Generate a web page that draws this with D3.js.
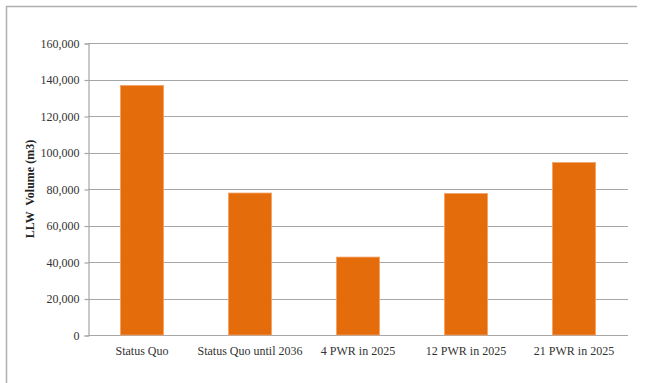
<!DOCTYPE html>
<html>
<head>
<meta charset="utf-8">
<script src="https://cdn.jsdelivr.net/npm/d3@7"></script>
<style>
  html, body { margin: 0; padding: 0; background: #fff; }
  svg { display: block; }
  text { font-family: "Liberation Serif", "Times New Roman", serif; }
</style>
</head>
<body>
<svg id="chart" width="646" height="383"></svg>
<script>
// Low-level waste volume by scenario
const categories = ["Status Quo", "Status Quo until 2036", "4 PWR in 2025", "12 PWR in 2025", "21 PWR in 2025"];
const volumes = [136700, 77800, 42700, 77500, 94500];
const yTicks = [0, 20000, 40000, 60000, 80000, 100000, 120000, 140000, 160000];

const svg = d3.select("#chart");
const W = 646, H = 383;
const margin = { left: 88, right: 18, top: 43, bottom: 48 };

// outer frame (top and left edges)
svg.append("path")
  .attr("d", `M6.5,${H} L6.5,6.5 L637,6.5`)
  .attr("fill", "none")
  .attr("stroke", "#b0b0b0")
  .attr("stroke-width", 1.5);

const x = d3.scaleBand()
  .domain(categories)
  .range([margin.left, W - margin.right])
  .paddingInner(0.6)
  .paddingOuter(0.3);

const y = d3.scaleLinear()
  .domain([0, 160000])
  .range([H - margin.bottom, margin.top]);

// horizontal gridlines
svg.append("g")
  .selectAll("line")
  .data(yTicks)
  .join("line")
  .attr("x1", margin.left)
  .attr("x2", W - margin.right)
  .attr("y1", d => Math.round(y(d)) + 0.5)
  .attr("y2", d => Math.round(y(d)) + 0.5)
  .attr("stroke", "#a6a6a6")
  .attr("stroke-width", 1.2);

// y axis
const yAxis = d3.axisLeft(y)
  .tickValues(yTicks)
  .tickSize(4)
  .tickPadding(5)
  .tickFormat(d3.format(","));

const gy = svg.append("g")
  .attr("transform", `translate(${margin.left + 0.5},0.5)`)
  .call(yAxis);
gy.select(".domain").attr("stroke", "#a6a6a6").attr("stroke-width", 1.2);
gy.selectAll(".tick line").attr("stroke", "#a6a6a6").attr("stroke-width", 1.2);
gy.selectAll(".tick text")
  .attr("fill", "#333")
  .style("font-size", "12px")
  .style("font-family", "'Liberation Serif', serif");

// bars
svg.append("g")
  .selectAll("rect")
  .data(categories)
  .join("rect")
  .attr("x", d => x(d))
  .attr("width", x.bandwidth())
  .attr("y", (d, i) => y(volumes[i]))
  .attr("height", (d, i) => y(0) - y(volumes[i]))
  .attr("fill", "#e46c0a")
  .attr("stroke", "#f3a469")
  .attr("stroke-width", 0.8);

// x axis category labels
const xAxis = d3.axisBottom(x).tickSize(0).tickPadding(11);
const gx = svg.append("g")
  .attr("transform", `translate(0,${y(0)})`)
  .call(xAxis);
gx.select(".domain").remove();
gx.selectAll(".tick text")
  .attr("fill", "#333")
  .style("font-size", "12px")
  .style("font-family", "'Liberation Serif', serif");

// y axis title
svg.append("text")
  .attr("transform", `translate(34,${(y(0) + y(160000)) / 2}) rotate(-90)`)
  .attr("text-anchor", "middle")
  .attr("fill", "#222")
  .style("font-size", "12px")
  .style("font-weight", "bold")
  .style("white-space", "pre")
  .text("LLW  Volume (m3)");
</script>
</body>
</html>
